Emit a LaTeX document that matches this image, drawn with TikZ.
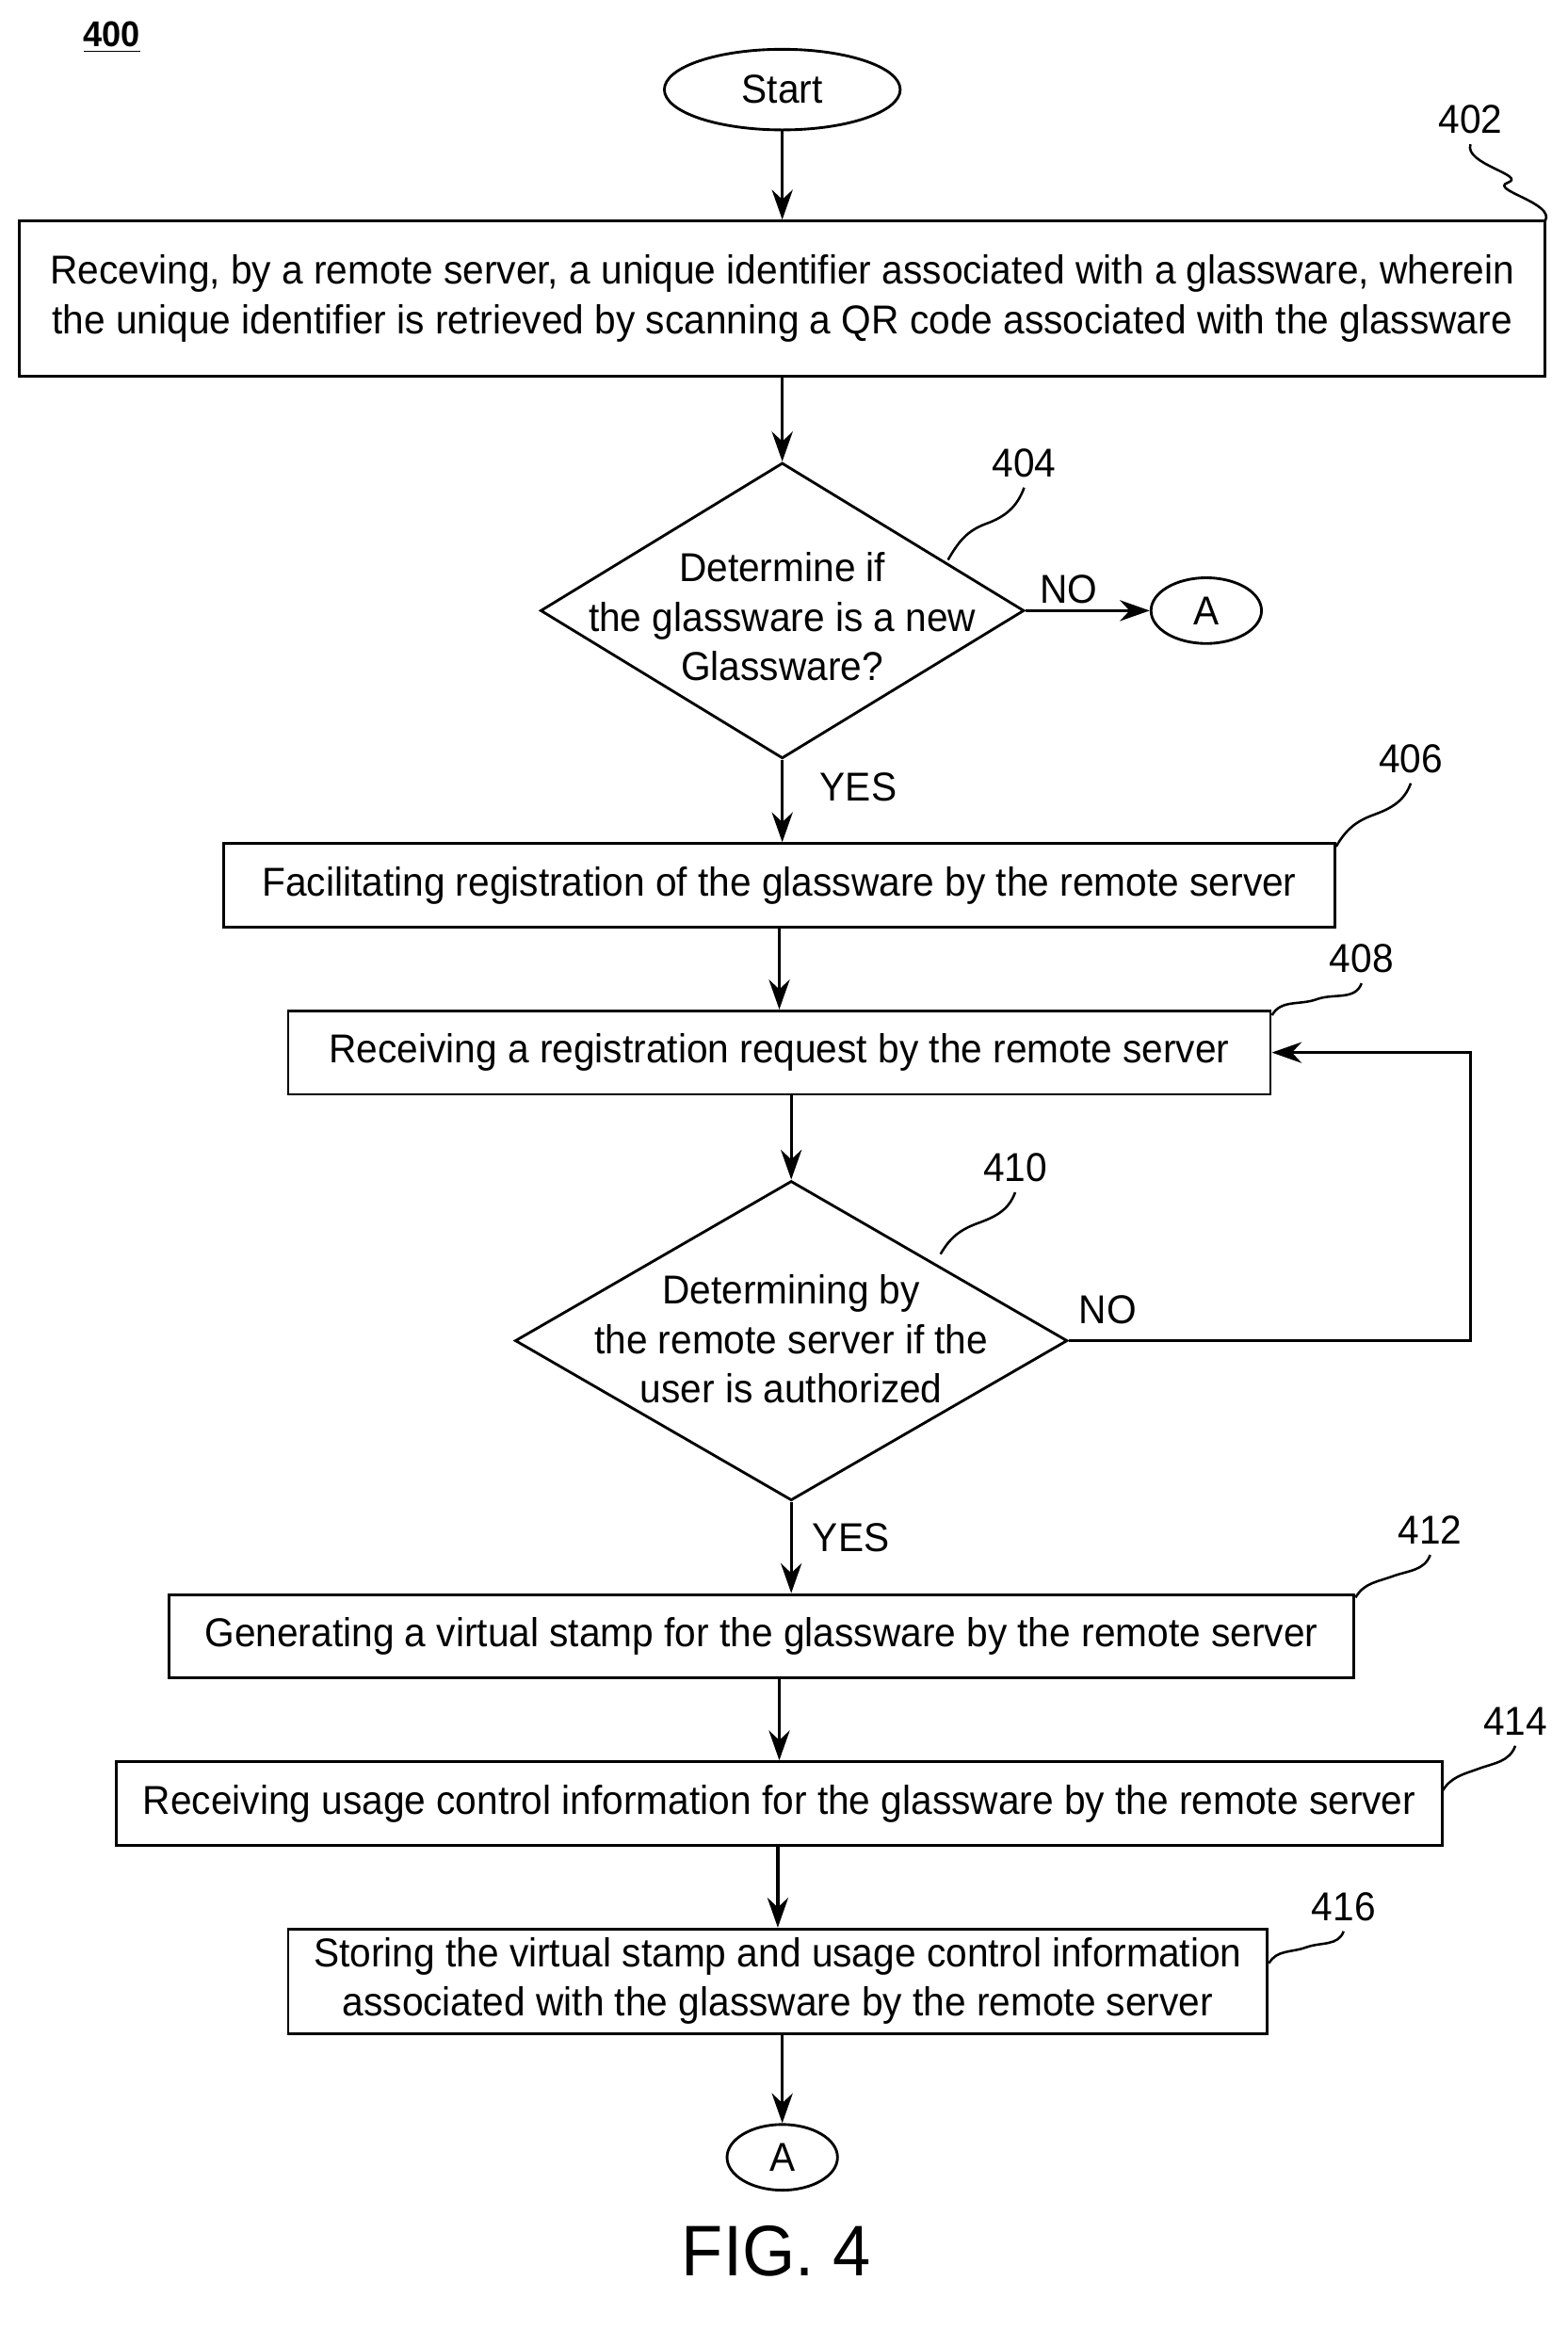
\documentclass[tikz,border=0pt]{standalone}
\usepackage{fontspec}
\setmainfont{Liberation Sans}[FakeStretch=0.95]
\usetikzlibrary{shapes.geometric,arrows.meta,calc}
\begin{document}
\begin{tikzpicture}[x=0.5pt,y=-0.5pt,
  every node/.style={font=\fontsize{13.5pt}{16.5pt}\selectfont},
  box/.style={draw,line width=0.9pt,inner sep=0,align=center},
  term/.style={draw,ellipse,line width=0.9pt,inner sep=0},
  dia/.style={draw,diamond,line width=0.9pt,inner sep=0},
  arr/.style={line width=1pt,-{Stealth[length=10pt,width=7pt]}},
  sq/.style={line width=0.8pt}]
\useasboundingbox (0,0) rectangle (1050,1560);
\node[font=\bfseries\fontsize{12pt}{14pt}\selectfont] (n400) at (75,25) {\underline{400}};
\node[term,minimum width=79pt,minimum height=27pt] (start) at (524,60) {Start};
\node[box,minimum width=511pt,minimum height=52pt] (b402) at (524,200) {Receving, by a remote server, a unique identifier associated with a glassware, wherein\\the unique identifier is retrieved by scanning a QR code associated with the glassware};
\node[dia,minimum width=162pt,minimum height=99pt] (d404) at (524,409) {};
\node[align=center] (t404) at (524,413) {Determine if\\the glassware is a new\\Glassware?};
\node[term,minimum width=37pt,minimum height=22pt] (a1) at (808,409) {A};
\node (no1) at (716,395) {NO};
\node (yes1) at (575,527) {YES};
\node[box,minimum width=372pt,minimum height=28pt] (b406) at (522,593) {Facilitating registration of the glassware by the remote server};
\node[box,minimum width=329pt,minimum height=28pt] (b408) at (522,705) {Receiving a registration request by the remote server};
\node[dia,minimum width=185pt,minimum height=107pt] (d410) at (530,898) {};
\node[align=center] (t410) at (530,897) {Determining by\\the remote server if the\\user is authorized};
\node (no2) at (742,877) {NO};
\node (yes2) at (570,1030) {YES};
\node[box,minimum width=397pt,minimum height=28pt] (b412) at (510,1096) {Generating a virtual stamp for the glassware by the remote server};
\node[box,minimum width=444pt,minimum height=28pt] (b414) at (522,1208) {Receiving usage control information for the glassware by the remote server};
\node[box,minimum width=328pt,minimum height=35pt] (b416) at (521,1327) {Storing the virtual stamp and usage control information\\associated with the glassware by the remote server};
\node[term,minimum width=37pt,minimum height=22pt] (a2) at (524,1445) {A};
\node[font=\fontsize{24pt}{28pt}\selectfont] (fig) at (520,1508) {FIG. 4};
\draw[arr] (start) -- (b402);
\draw[arr] (b402) -- (d404.north);
\draw[arr] (d404.east) -- (a1);
\draw[arr] (d404.south) -- (d404.south|-b406.north);
\draw[arr] (b406) -- (b406.south|-b408.north);
\coordinate (c1) at (985,898);
\coordinate (c2) at (985,705);
\draw[arr] (d410.east) -- (c1) -- (c2) -- (b408.east);
\draw[arr] (b408.south-|d410.north) -- (d410.north);
\draw[arr] (d410.south) -- (d410.south|-b412.north);
\draw[arr] (b412.south-|b414.north) -- (b414.north);
\draw[arr] (b414.south-|b416.north) -- (b416.north);
\draw[arr] (b416.south-|a2.north) -- (a2.north);
% reference labels
\node (l402) at (985,80) {402};
\node (l404) at (686,310) {404};
\node (l406) at (945,508) {406};
\node (l408) at (912,642) {408};
\node (l410) at (680,782) {410};
\node (l412) at (958,1025) {412};
\node (l414) at (1015,1153) {414};
\node (l416) at (900,1277) {416};
\coordinate (t402) at (1035,148);
\coordinate (t404) at (635,375);
\coordinate (t406) at (895,567);
\coordinate (t408) at (852,680);
\coordinate (t410) at (630,840);
\coordinate (t412) at (908,1070);
\coordinate (t414) at (966,1200);
\coordinate (t416) at (850,1315);
\foreach \n in {402,404,406,408,410,412,414,416}{
  \draw[sq] (t\n) to[out=60,in=200] ($(t\n)!0.5!(l\n.south)$) to[out=20,in=250] (l\n.south);
}
\end{tikzpicture}
\end{document}
